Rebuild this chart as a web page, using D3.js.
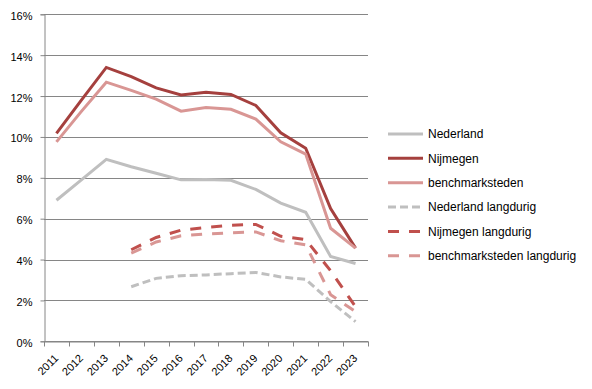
<!DOCTYPE html>
<html>
<head>
<meta charset="utf-8">
<script src="https://cdn.jsdelivr.net/npm/d3@7"></script>
<style>
  body { margin: 0; background: #fff; }
  svg { font-family: "Liberation Sans", Arial, sans-serif; }
  .grid line { stroke: #868686; stroke-width: 1; }
  .axis text { fill: #000; font-size: 11px; }
  .legend text { fill: #000; font-size: 12px; }
</style>
</head>
<body>
<div id="chart"></div>
<script>
years = ["2011","2012","2013","2014","2015","2016","2017","2018","2019","2020","2021","2022","2023"];
yTicks = [0, 0.02, 0.04, 0.06, 0.08, 0.10, 0.12, 0.14, 0.16];

nederland = [6.9, 7.9, 8.9, 8.54, 8.22, 7.9, 7.92, 7.88, 7.43, 6.76, 6.31, 4.15, 3.81];
nijmegen = [10.17, 11.8, 13.4, 12.95, 12.4, 12.05, 12.18, 12.08, 11.54, 10.2, 9.45, 6.5, 4.56];
benchmark = [9.76, 11.25, 12.68, 12.28, 11.85, 11.26, 11.44, 11.35, 10.87, 9.76, 9.16, 5.53, 4.56];
nederlandLang = [null, null, null, 2.67, 3.08, 3.21, 3.25, 3.31, 3.37, 3.15, 3.03, 1.94, 0.96];
nijmegenLang = [null, null, null, 4.48, 5.08, 5.44, 5.57, 5.68, 5.72, 5.14, 4.98, 3.45, 1.69];
benchmarkLang = [null, null, null, 4.32, 4.86, 5.16, 5.25, 5.31, 5.35, 4.92, 4.72, 2.28, 1.45];

seriesNames = ["Nederland", "Nijmegen", "benchmarksteden", "Nederland langdurig", "Nijmegen langdurig", "benchmarksteden langdurig"];

const series = [
  { name: seriesNames[0], values: nederland, color: "#bfbfbf", dash: null },
  { name: seriesNames[1], values: nijmegen, color: "#a5403e", dash: null },
  { name: seriesNames[2], values: benchmark, color: "#d99694", dash: null },
  { name: seriesNames[3], values: nederlandLang, color: "#bfbfbf", dash: "8,4" },
  { name: seriesNames[4], values: nijmegenLang, color: "#c0504d", dash: "11,10" },
  { name: seriesNames[5], values: benchmarkLang, color: "#d99694", dash: "11,10" }
];

width = 592;
height = 389;
const plotLeft = 44, plotRight = 368, plotTop = 14.3, plotBottom = 341.3;

const svg = d3.select("#chart")
  .append("svg")
  .attr("width", width)
  .attr("height", height);

const x = d3.scaleBand().domain(years).range([plotLeft, plotRight]);
const y = d3.scaleLinear().domain([0, 0.16]).range([plotBottom, plotTop]);

// gridlines
svg.append("g")
  .attr("class", "grid")
  .selectAll("line")
  .data(yTicks)
  .join("line")
  .attr("x1", plotLeft)
  .attr("x2", plotRight)
  .attr("y1", d => Math.round(y(d)) + 0.5)
  .attr("y2", d => Math.round(y(d)) + 0.5);

// y axis
const yAxis = svg.append("g")
  .attr("class", "axis")
  .attr("transform", `translate(${plotLeft + 0.5},0)`)
  .call(d3.axisLeft(y).tickValues(yTicks).tickFormat(d3.format(".0%")).tickSize(4).tickPadding(8));
yAxis.selectAll("line").attr("stroke", "#868686");
yAxis.select(".domain").attr("stroke", "#868686");
yAxis.selectAll("text").attr("dy", "0.45em");

// x axis
const xAxis = svg.append("g")
  .attr("class", "axis")
  .attr("transform", `translate(0,${Math.round(plotBottom) + 0.5})`)
  .call(d3.axisBottom(x).tickSize(0));
xAxis.select(".domain").attr("stroke", "#868686");
xAxis.selectAll("text")
  .attr("text-anchor", "end")
  .attr("y", 0)
  .attr("dy", 0)
  .attr("transform", "translate(2.5,17.5) rotate(-45)");
// tick marks at category boundaries
xAxis.selectAll(".bound")
  .data(years.concat(["end"]))
  .join("line")
  .attr("class", "bound")
  .attr("stroke", "#868686")
  .attr("x1", (d, i) => Math.round(plotLeft + i * x.step()) + 0.5)
  .attr("x2", (d, i) => Math.round(plotLeft + i * x.step()) + 0.5)
  .attr("y1", 0)
  .attr("y2", 5);

const line = d3.line()
  .defined(d => d.v != null)
  .x(d => x(d.year) + x.bandwidth() / 2)
  .y(d => y(d.v / 100));

svg.append("g")
  .selectAll("path")
  .data(series)
  .join("path")
  .attr("fill", "none")
  .attr("stroke", d => d.color)
  .attr("stroke-width", 3)
  .attr("stroke-dasharray", d => d.dash)
  .attr("d", d => line(d.values.map((v, i) => ({ year: years[i], v }))));

// legend
const legend = svg.append("g")
  .attr("class", "legend")
  .selectAll("g")
  .data(series)
  .join("g")
  .attr("transform", (d, i) => `translate(388,${134 + i * 24.35})`);

legend.append("line")
  .attr("x1", 0)
  .attr("x2", 35)
  .attr("stroke", d => d.color)
  .attr("stroke-width", 3)
  .attr("stroke-dasharray", d => d.dash);

legend.append("text")
  .attr("x", 40)
  .attr("dy", "0.36em")
  .text(d => d.name);
</script>
</body>
</html>
